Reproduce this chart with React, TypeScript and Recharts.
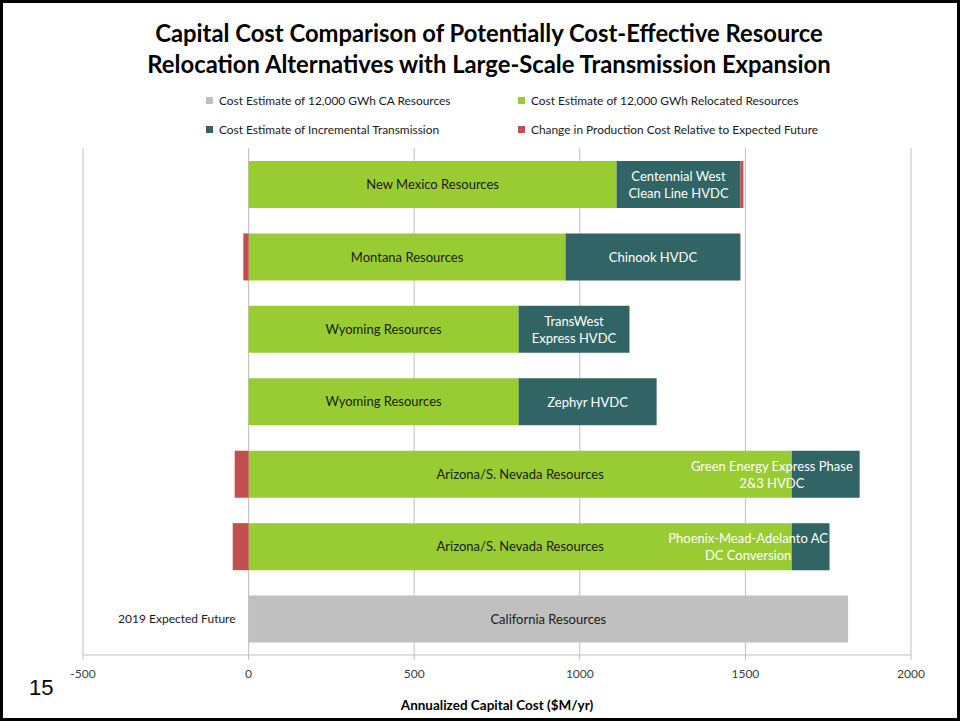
import {
  BarChart,
  Bar,
  XAxis,
  YAxis,
  CartesianGrid,
  LabelList,
} from 'recharts';

const categories = ['nm', 'mt', 'wy1', 'wy2', 'az1', 'az2', 'ca'];
const rowGroups = ['', '', '', '', '', '', '2019 Expected Future'];
const regionNames = [
  'New Mexico Resources',
  'Montana Resources',
  'Wyoming Resources',
  'Wyoming Resources',
  'Arizona/S. Nevada Resources',
  'Arizona/S. Nevada Resources',
  '',
];
const caNames = ['', '', '', '', '', '', 'California Resources'];
const lineNames = [
  'Centennial West\nClean Line HVDC',
  'Chinook HVDC',
  'TransWest\nExpress HVDC',
  'Zephyr HVDC',
  'Green Energy Express Phase\n2&3 HVDC',
  'Phoenix-Mead-Adelanto AC\nDC Conversion',
  '',
];

const caResources = [0, 0, 0, 0, 0, 0, 1810];
const relocatedResources = [1111, 957, 815, 815, 1640, 1640, 0];
const incrementalTransmission = [374, 528, 335, 417, 205, 114, 0];
const productionCostChange = [9, -16, 0, 0, -42, -48, 0];

const xTicks = [-500, 0, 500, 1000, 1500, 2000];

const FONT = 'Lato, "Open Sans", sans-serif';
const GREY = '#C0C0C0';
const GREEN = '#99CC33';
const TEAL = '#316565';
const RED = '#C0504D';

const series = [
  { key: 'ca', name: 'Cost Estimate of 12,000 GWh CA Resources', color: GREY },
  { key: 'relocated', name: 'Cost Estimate of 12,000 GWh Relocated Resources', color: GREEN },
  { key: 'transmission', name: 'Cost Estimate of Incremental Transmission', color: TEAL },
  { key: 'prodCost', name: 'Change in Production Cost Relative to Expected Future', color: RED },
];

const data = categories.map((id, i) => ({
  id,
  group: rowGroups[i],
  region: regionNames[i],
  caName: caNames[i],
  line: lineNames[i],
  ca: caResources[i],
  relocated: relocatedResources[i],
  transmission: incrementalTransmission[i],
  prodCost: productionCostChange[i],
}));

function TransmissionLabel(props: any) {
  const x = Number(props.x);
  const y = Number(props.y);
  const width = Number(props.width);
  const height = Number(props.height);
  const value = props.value;
  if (!value) return null;
  const lines = String(value).split('\n');
  const fs = 13;
  const est = Math.max(...lines.map((l) => l.length)) * fs * 0.49;
  let cx = x + width / 2;
  // labels wider than the bar hug its right end, like the original
  if (est > width - 8) cx = x + width - 5 - est / 2;
  const lh = 17;
  const y0 = y + height / 2 - ((lines.length - 1) * lh) / 2;
  return (
    <text textAnchor="middle" fill="#ffffff" fontSize={fs} fontFamily={FONT}>
      {lines.map((l, i) => (
        <tspan key={i} x={cx} y={y0 + i * lh} dominantBaseline="central">
          {l}
        </tspan>
      ))}
    </text>
  );
}

export default function App() {
  return (
    <div
      style={{
        position: 'absolute',
        left: 0,
        top: 0,
        width: 960,
        height: 721,
        background: '#fff',
        overflow: 'hidden',
      }}
    >
      <div
        style={{
          position: 'absolute',
          left: 0,
          top: 18,
          width: 978,
          textAlign: 'center',
          fontFamily: FONT,
          fontWeight: 700,
          fontSize: 23.8,
          lineHeight: '31px',
          color: '#000',
        }}
      >
        Capital Cost Comparison of Potentially Cost-Effective Resource
        <br />
        Relocation Alternatives with Large-Scale Transmission Expansion
      </div>

      <div
        style={{
          position: 'absolute',
          left: 206,
          top: 93,
          display: 'grid',
          gridTemplateColumns: '312px 340px',
          rowGap: 14,
          fontFamily: FONT,
          fontSize: 11.9,
          color: '#1a1a1a',
        }}
      >
        {series.map((s) => (
          <div key={s.key} style={{ display: 'flex', alignItems: 'center', height: 15 }}>
            <span
              style={{
                display: 'inline-block',
                width: 7,
                height: 7,
                background: s.color,
                marginRight: 6,
              }}
            />
            {s.name}
          </div>
        ))}
      </div>

      <div style={{ position: 'absolute', left: 0, top: 0 }}>
        <BarChart
          width={960}
          height={721}
          data={data}
          layout="vertical"
          stackOffset="sign"
          margin={{ top: 148, right: 49, bottom: 6, left: 83 }}
          barSize={47}
        >
          <CartesianGrid vertical horizontal={false} stroke="#BFBFBF" />
          <XAxis
            type="number"
            domain={[-500, 2000]}
            ticks={xTicks}
            allowDataOverflow
            height={60}
            tickSize={5}
            tickMargin={9}
            axisLine={{ stroke: '#BFBFBF' }}
            tickLine={{ stroke: '#BFBFBF' }}
            tick={{ fill: '#404040', fontSize: 12, fontFamily: FONT }}
            label={{
              value: 'Annualized Capital Cost ($M/yr)',
              position: 'insideBottom',
              offset: 5,
              fill: '#000',
              fontSize: 13.5,
              fontWeight: 700,
              fontFamily: FONT,
            }}
          />
          <YAxis type="category" dataKey="id" hide />
          <Bar
            dataKey="ca"
            name={series[0].name}
            stackId="s"
            fill={GREY}
            isAnimationActive={false}
          >
            <LabelList
              dataKey="caName"
              position="center"
              fill="#1a1a1a"
              fontSize={13}
              fontFamily={FONT}
            />
            <LabelList
              dataKey="group"
              position="left"
              offset={13}
              fill="#1a1a1a"
              fontSize={12}
              fontFamily={FONT}
            />
          </Bar>
          <Bar
            dataKey="relocated"
            name={series[1].name}
            stackId="s"
            fill={GREEN}
            isAnimationActive={false}
          >
            <LabelList
              dataKey="region"
              position="center"
              fill="#1a1a1a"
              fontSize={13}
              fontFamily={FONT}
            />
          </Bar>
          <Bar
            dataKey="transmission"
            name={series[2].name}
            stackId="s"
            fill={TEAL}
            isAnimationActive={false}
          >
            <LabelList dataKey="line" content={<TransmissionLabel />} />
          </Bar>
          <Bar
            dataKey="prodCost"
            name={series[3].name}
            stackId="s"
            fill={RED}
            isAnimationActive={false}
          />
        </BarChart>
      </div>

      <div
        style={{
          position: 'absolute',
          left: 29,
          top: 675,
          fontFamily: '"Liberation Sans", Arial, sans-serif',
          fontSize: 22,
          color: '#000',
        }}
      >
        15
      </div>

      <div
        style={{
          position: 'absolute',
          inset: 0,
          border: '3px solid #000',
          boxSizing: 'border-box',
          pointerEvents: 'none',
        }}
      />
    </div>
  );
}
